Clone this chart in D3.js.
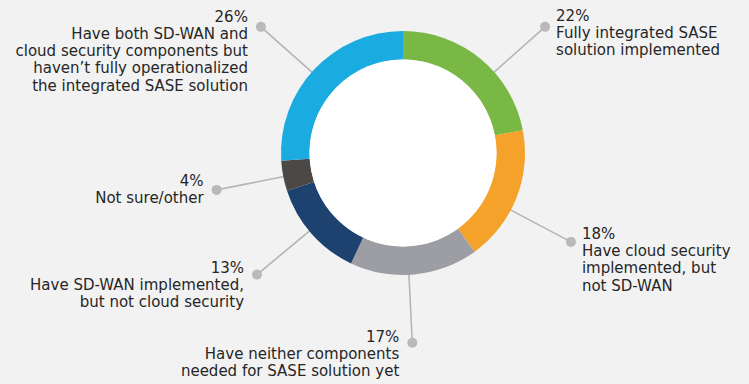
<!DOCTYPE html>
<html>
<head>
<meta charset="utf-8">
<script src="https://cdn.jsdelivr.net/npm/d3@7"></script>
<style>
  html, body { margin: 0; padding: 0; background: #f2f2f2; }
  svg { display: block; }
</style>
</head>
<body>
<svg id="chart"></svg>
<script>
// slices, clockwise from 12 o'clock
const values = [22, 18, 17, 13, 4, 26];
const pctLabels = ["22%", "18%", "17%", "13%", "4%", "26%"];
const descLabels = [
  ["Fully integrated SASE", "solution implemented"],
  ["Have cloud security", "implemented, but", "not SD-WAN"],
  ["Have neither components", "needed for SASE solution yet"],
  ["Have SD-WAN implemented,", "but not cloud security"],
  ["Not sure/other"],
  ["Have both SD-WAN and", "cloud security components but", "haven\u2019t fully operationalized", "the integrated SASE solution"]
];
const colors = ["#7ab846", "#f5a22b", "#9d9ea3", "#1d4270", "#4b4846", "#1aabe1"];

// label layout: angle nudge (deg) from the slice middle, text side, first baseline offset
const labelNudge = [8.8, 6.3, 2.6, 1.6, -0.4, -1.6];
const labelSide = ["right", "right", "left", "left", "left", "left"];
const labelDy = [-6, -3, -1, -2, -4, -5];

const W = 749, H = 384;
const cx = 403, cy = 153;
const outerR = 122, innerR = 93.5, dotR = 190;
const lineH = 17.2;

const svg = d3.select("#chart").attr("width", W).attr("height", H);
svg.append("rect").attr("width", W).attr("height", H).attr("fill", "#f2f2f2");

const g = svg.append("g").attr("transform", `translate(${cx},${cy})`);

const pie = d3.pie().sort(null).value(d => d);
const arcs = pie(values);
const arc = d3.arc().innerRadius(innerR).outerRadius(outerR);

// leader lines + dots
const pt = (a, r) => [Math.sin(a) * r, -Math.cos(a) * r];
arcs.forEach((d, i) => {
  const a = (d.startAngle + d.endAngle) / 2 + labelNudge[i] * Math.PI / 180;
  const p0 = pt(a, outerR - 2), p1 = pt(a, dotR);
  g.append("line")
    .attr("x1", p0[0]).attr("y1", p0[1])
    .attr("x2", p1[0]).attr("y2", p1[1])
    .attr("stroke", "#b5b5b5")
    .attr("stroke-width", 1.6);
  g.append("circle")
    .attr("cx", p1[0]).attr("cy", p1[1])
    .attr("r", 5)
    .attr("fill", "#b9b9b9");

  const left = labelSide[i] === "left";
  const t = g.append("text")
    .attr("x", left ? p1[0] - 13 : p1[0] + 11)
    .attr("y", p1[1] + labelDy[i])
    .attr("text-anchor", left ? "end" : "start")
    .style("font-family", "'DejaVu Sans', sans-serif")
    .style("font-size", "15px")
    .style("fill", "#262626");
  [pctLabels[i]].concat(descLabels[i]).forEach((s, j) => {
    t.append("tspan")
      .attr("x", left ? p1[0] - 13 : p1[0] + 11)
      .attr("dy", j === 0 ? 0 : lineH)
      .text(s);
  });
});

// donut
g.selectAll("path.slice")
  .data(arcs)
  .join("path")
  .attr("class", "slice")
  .attr("d", arc)
  .attr("fill", (d, i) => colors[i]);

g.append("circle").attr("r", innerR).attr("fill", "#ffffff");
</script>
</body>
</html>
